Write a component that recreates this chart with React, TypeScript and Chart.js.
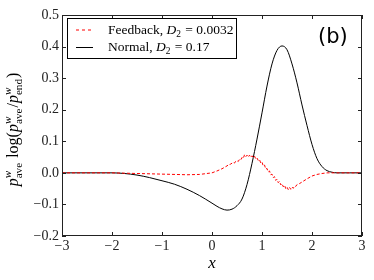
import React, { useEffect, useRef } from 'react';
import { Chart, registerables } from 'chart.js';

Chart.register(...registerables);

// ---- data ----
const xNormal = [-3, -2.5, -2, -1.75, -1.5, -1.25, -1, -0.75, -0.5, -0.25, 0, 0.1, 0.2, 0.3, 0.4, 0.5, 0.6, 0.7, 0.8, 0.9, 1.0, 1.1, 1.2, 1.3, 1.4, 1.5, 1.6, 1.7, 1.8, 1.9, 2.0, 2.1, 2.2, 2.3, 2.4, 2.5, 2.75, 3];
const yNormal = [0, 0, 0, -0.002, -0.007, -0.015, -0.025, -0.036, -0.052, -0.072, -0.096, -0.106, -0.114, -0.118, -0.115, -0.104, -0.083, -0.037, 0.03, 0.107, 0.19, 0.275, 0.345, 0.388, 0.402, 0.39, 0.345, 0.285, 0.215, 0.15, 0.09, 0.045, 0.02, 0.007, 0.002, 0, 0, 0];

const xFeedback = [-3, -2.5, -2, -1.75, -1.5, -1, -0.5, -0.25, 0, 0.1, 0.2,
  0.3, 0.325, 0.35, 0.375, 0.4, 0.425, 0.45, 0.475, 0.5, 0.525, 0.55, 0.575, 0.6, 0.625, 0.65, 0.675, 0.7, 0.725, 0.75, 0.775,
  0.8, 0.825, 0.85, 0.875, 0.9, 0.925, 0.95, 0.975, 1.0, 1.025, 1.05, 1.075, 1.1, 1.125, 1.15, 1.175, 1.2, 1.225, 1.25, 1.275,
  1.3, 1.325, 1.35, 1.375, 1.4, 1.425, 1.45, 1.475, 1.5, 1.525, 1.55, 1.575, 1.6, 1.625, 1.65, 1.675, 1.7, 1.75, 1.8,
  1.9, 2.0, 2.1, 2.2, 2.3, 2.5, 3];
const yFeedback = [0, 0, 0, -0.001, -0.002, -0.004, -0.006, -0.005, 0, 0.006, 0.013,
  0.022, 0.025, 0.024, 0.029, 0.03, 0.033, 0.031, 0.037, 0.038, 0.036, 0.043, 0.041, 0.049, 0.046, 0.057, 0.051, 0.056, 0.05, 0.056, 0.049,
  0.054, 0.048, 0.053, 0.044, 0.047, 0.039, 0.042, 0.031, 0.034, 0.022, 0.025, 0.012, 0.014, 0.003, 0.006, -0.006, -0.004, -0.015, -0.012, -0.024,
  -0.02, -0.031, -0.027, -0.038, -0.034, -0.044, -0.039, -0.05, -0.045, -0.053, -0.046, -0.052, -0.045, -0.049, -0.042, -0.043, -0.037, -0.034, -0.029,
  -0.019, -0.01, -0.005, -0.002, 0, 0, 0];

const xTicks = [-3, -2, -1, 0, 1, 2, 3];
const yTicks = [-0.2, -0.1, 0, 0.1, 0.2, 0.3, 0.4, 0.5];
const legendNames = ['Feedback', 'Normal'];
const legendD2 = ['0.0032', '0.17'];
const panelLabel = '(b)';

const SERIF = '"Liberation Serif", "Times New Roman", serif';
const SANS = '"DejaVu Sans", sans-serif';

const minus = (s: string) => s.replace('-', '\u2212');

type Item =
  | { t: string; it?: boolean }
  | { sup: string; sub: string };

function mathWidth(ctx: CanvasRenderingContext2D, items: Item[], size: number) {
  let w = 0;
  for (const it of items) {
    if ('t' in it) {
      ctx.font = `${it.it ? 'italic ' : ''}${size}px ${SERIF}`;
      w += ctx.measureText(it.t).width;
    } else {
      const s = size * 0.7;
      ctx.font = `italic ${s}px ${SERIF}`;
      const a = ctx.measureText(it.sup).width;
      ctx.font = `${s}px ${SERIF}`;
      const b = ctx.measureText(it.sub).width;
      w += Math.max(a, b) + 1;
    }
  }
  return w;
}

function drawMath(ctx: CanvasRenderingContext2D, items: Item[], x: number, y: number, size: number) {
  ctx.textBaseline = 'alphabetic';
  ctx.textAlign = 'left';
  for (const it of items) {
    if ('t' in it) {
      ctx.font = `${it.it ? 'italic ' : ''}${size}px ${SERIF}`;
      ctx.fillText(it.t, x, y);
      x += ctx.measureText(it.t).width;
    } else {
      const s = size * 0.7;
      ctx.font = `italic ${s}px ${SERIF}`;
      const a = ctx.measureText(it.sup).width;
      if (it.sup) ctx.fillText(it.sup, x, y - size * 0.42);
      ctx.font = `${s}px ${SERIF}`;
      const b = ctx.measureText(it.sub).width;
      if (it.sub) ctx.fillText(it.sub, x, y + size * 0.22);
      x += Math.max(a, b) + 1;
    }
  }
}

const decorPlugin = {
  id: 'decor',
  afterDatasetsDraw(chart: any) {
    const { ctx, chartArea: a, scales } = chart;
    ctx.save();
    // frame
    ctx.strokeStyle = '#222';
    ctx.lineWidth = 1;
    ctx.strokeRect(Math.round(a.left) + 0.5, Math.round(a.top) + 0.5, Math.round(a.right - a.left) - 1, Math.round(a.bottom - a.top) - 1);
    // inward ticks on all sides
    ctx.beginPath();
    for (const v of xTicks) {
      const px = Math.round(scales.x.getPixelForValue(v)) + 0.5;
      ctx.moveTo(px, a.bottom);
      ctx.lineTo(px, a.bottom - 4);
      ctx.moveTo(px, a.top);
      ctx.lineTo(px, a.top + 4);
    }
    for (const v of yTicks) {
      const py = Math.round(scales.y.getPixelForValue(v)) + 0.5;
      ctx.moveTo(a.left, py);
      ctx.lineTo(a.left + 4, py);
      ctx.moveTo(a.right, py);
      ctx.lineTo(a.right - 4, py);
    }
    ctx.stroke();

    // legend
    const lx = 67.5, ly = 18.5, lw = 169, lh = 40;
    ctx.fillStyle = '#fff';
    ctx.fillRect(lx, ly, lw, lh);
    ctx.strokeStyle = '#000';
    ctx.lineWidth = 1;
    ctx.strokeRect(lx, ly, lw, lh);
    const rows = [30, 47.5];
    const colors = ['#ff0000', '#000000'];
    const dashes = [[3, 3], []];
    for (let i = 0; i < 2; i++) {
      ctx.beginPath();
      ctx.setLineDash(dashes[i]);
      ctx.strokeStyle = colors[i];
      ctx.lineWidth = 1;
      ctx.moveTo(76, rows[i]);
      ctx.lineTo(93, rows[i]);
      ctx.stroke();
      ctx.setLineDash([]);
      ctx.fillStyle = '#000';
      const size = 13.5;
      const items: Item[] = [
        { t: legendNames[i] + ', ' },
        { t: 'D', it: true },
        { sup: '', sub: '2' },
        { t: ' = ' + legendD2[i] },
      ];
      drawMath(ctx, items, 108, rows[i] + 3.8, size);
    }

    // panel label
    ctx.fillStyle = '#000';
    ctx.font = `21px ${SANS}`;
    ctx.textAlign = 'left';
    ctx.textBaseline = 'alphabetic';
    ctx.fillText(panelLabel, 318, 43);

    // x title
    ctx.font = `italic 17px ${SERIF}`;
    ctx.textAlign = 'center';
    ctx.fillText('x', (a.left + a.right) / 2, 268);

    // y title
    const yItems: Item[] = [
      { t: 'p', it: true },
      { sup: 'w', sub: 'ave' },
      { t: ' log(' },
      { t: 'p', it: true },
      { sup: 'w', sub: 'ave' },
      { t: '/' },
      { t: 'p', it: true },
      { sup: 'w', sub: 'end' },
      { t: ')' },
    ];
    const ys = 16;
    const w = mathWidth(ctx, yItems, ys);
    ctx.save();
    ctx.translate(18, (a.top + a.bottom) / 2 + 4);
    ctx.rotate(-Math.PI / 2);
    ctx.fillStyle = '#000';
    drawMath(ctx, yItems, -w / 2, 0, ys);
    ctx.restore();

    ctx.restore();
  },
};

export default function App() {
  const ref = useRef<HTMLCanvasElement | null>(null);
  useEffect(() => {
    if (!ref.current) return;
    const chart = new Chart(ref.current, {
      type: 'line',
      data: {
        datasets: [
          {
            label: 'Feedback',
            data: xFeedback.map((x, i) => ({ x, y: yFeedback[i] })),
            borderColor: '#ff0000',
            borderWidth: 1,
            borderDash: [3, 2],
            pointRadius: 0,
            tension: 0,
            fill: false,
          },
          {
            label: 'Normal',
            data: xNormal.map((x, i) => ({ x, y: yNormal[i] })),
            borderColor: '#000000',
            borderWidth: 1,
            pointRadius: 0,
            cubicInterpolationMode: 'monotone',
            fill: false,
          },
        ],
      },
      options: {
        responsive: false,
        animation: false,
        devicePixelRatio: 1,
        layout: { padding: { top: 15, right: 12, left: 0, bottom: 0 } },
        plugins: { legend: { display: false }, tooltip: { enabled: false } },
        scales: {
          x: {
            type: 'linear',
            min: -3,
            max: 3,
            afterFit: (s: any) => { s.height = 44; },
            afterBuildTicks: (s: any) => { s.ticks = xTicks.map((v) => ({ value: v })); },
            grid: { display: false, drawTicks: false },
            border: { display: false },
            ticks: {
              padding: 2,
              color: '#222',
              font: { family: SERIF, size: 14 },
              callback: (v: any) => minus(String(Math.round(Number(v)))),
              maxRotation: 0,
            },
          },
          y: {
            type: 'linear',
            min: -0.2,
            max: 0.5,
            afterFit: (s: any) => { s.width = 62; },
            afterBuildTicks: (s: any) => { s.ticks = yTicks.map((v) => ({ value: v })); },
            grid: { display: false, drawTicks: false },
            border: { display: false },
            ticks: {
              padding: 3,
              color: '#222',
              font: { family: SERIF, size: 14 },
              callback: (v: any) => {
                const n = Number(v);
                const s = Math.abs(n) < 1e-9 ? '0.0' : n.toFixed(1);
                return minus(s);
              },
            },
          },
        },
      },
      plugins: [decorPlugin],
    } as any);
    return () => chart.destroy();
  }, []);
  return (
    <div style={{ position: 'fixed', left: 0, top: 0, width: 374, height: 280, background: '#fff' }}>
      <canvas ref={ref} width={374} height={280} />
    </div>
  );
}
